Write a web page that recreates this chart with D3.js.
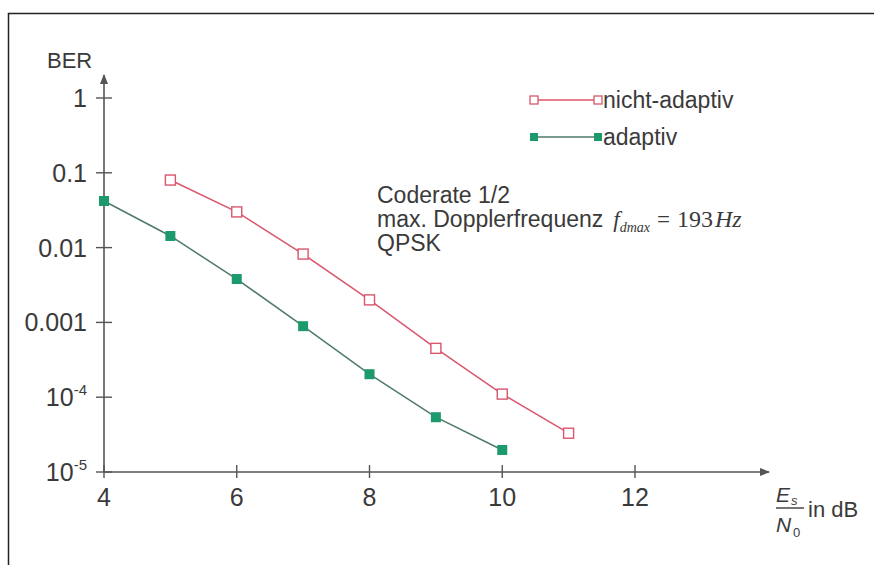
<!DOCTYPE html>
<html>
<head>
<meta charset="utf-8">
<script src="https://cdn.jsdelivr.net/npm/d3@7"></script>
<style>
html,body{margin:0;padding:0;background:#fff;}
svg{display:block;font-family:"Liberation Sans",Arial,sans-serif;}
</style>
</head>
<body>
<svg id="chart" width="874" height="565"></svg>
<script>
// ---- data ----
const nichtX = [5, 6, 7, 8, 9, 10, 11];
const nichtBER = [0.08, 0.030, 0.0082, 0.0020, 0.00045, 0.00011, 0.000033];
const adaptivX = [4, 5, 6, 7, 8, 9, 10];
const adaptivBER = [0.042, 0.0143, 0.0038, 0.00089, 0.000203, 0.000054, 0.0000197];
const xTicks = [4, 6, 8, 10, 12];
const yTicks = [1, 0.1, 0.01, 0.001, 1e-4, 1e-5];
const yTickLabels = ["1", "0.1", "0.01", "0.001", "10^-4", "10^-5"];
const seriesNames = ["nicht-adaptiv", "adaptiv"];
const annotationLines = ["Coderate 1/2", "max. Dopplerfrequenz", "QPSK"];

const svg = d3.select("#chart");
const red = "#d9566e", green = "#1d9a6c", greenLine = "#4f7a68", axisCol = "#555", txt = "#3a3a3a";

// frame (open on right/bottom)
svg.append("path").attr("d", "M8.5,565 V13.5 H874").attr("fill", "none").attr("stroke", "#222").attr("stroke-width", 1.5);

const x = d3.scaleLinear().domain([4, 12]).range([104, 635]);
const y = d3.scaleLog().domain([1e-5, 1]).range([472, 98]);

// axes lines with arrows
svg.append("defs").append("marker").attr("id", "arr").attr("viewBox", "0 0 10 10")
  .attr("refX", 9).attr("refY", 5).attr("markerWidth", 14).attr("markerHeight", 10)
  .attr("markerUnits", "userSpaceOnUse").attr("orient", "auto")
  .append("path").attr("d", "M0,1 L10,5 L0,9 Z").attr("fill", axisCol);

svg.append("line").attr("x1", x(4)).attr("y1", y(1e-5)).attr("x2", 769).attr("y2", y(1e-5))
  .attr("stroke", axisCol).attr("stroke-width", 1.6).attr("marker-end", "url(#arr)");
svg.append("line").attr("x1", x(4)).attr("y1", y(1e-5)).attr("x2", x(4)).attr("y2", 75)
  .attr("stroke", axisCol).attr("stroke-width", 1.6).attr("marker-end", "url(#arr)");

// x ticks
const gx = svg.append("g");
xTicks.forEach(t => {
  gx.append("line").attr("x1", x(t)).attr("x2", x(t)).attr("y1", y(1e-5) - 7).attr("y2", y(1e-5) + 6)
    .attr("stroke", axisCol).attr("stroke-width", 1.4);
  gx.append("text").attr("x", x(t)).attr("y", 506).attr("text-anchor", "middle")
    .attr("font-size", 25).attr("fill", txt).text(t);
});

// y ticks
const gy = svg.append("g");
yTicks.forEach((t, i) => {
  gy.append("line").attr("x1", x(4) - 8).attr("x2", x(4) + 8).attr("y1", y(t)).attr("y2", y(t))
    .attr("stroke", axisCol).attr("stroke-width", 1.4);
  const lab = yTickLabels[i];
  const tx = gy.append("text").attr("x", 87).attr("y", y(t) + 9).attr("text-anchor", "end")
    .attr("font-size", 25).attr("fill", txt);
  if (lab.startsWith("10^")) {
    tx.append("tspan").text("10");
    tx.append("tspan").attr("dy", -11).attr("font-size", 15).text(lab.slice(3));
  } else tx.text(lab);
});

svg.append("text").attr("x", 47).attr("y", 68).attr("font-size", 22).attr("fill", txt).text("BER");

// x axis label
const xl = svg.append("g").attr("fill", txt);
xl.append("text").attr("x", 776).attr("y", 502).attr("font-size", 21).attr("font-style", "italic").text("E");
xl.append("text").attr("x", 791).attr("y", 505).attr("font-size", 13).attr("font-style", "italic").text("s");
xl.append("line").attr("x1", 776).attr("x2", 804).attr("y1", 508).attr("y2", 508).attr("stroke", txt).attr("stroke-width", 1.4);
xl.append("text").attr("x", 776).attr("y", 532).attr("font-size", 21).attr("font-style", "italic").text("N");
xl.append("text").attr("x", 793).attr("y", 537).attr("font-size", 13).text("0");
xl.append("text").attr("x", 808).attr("y", 517).attr("font-size", 22).text("in dB");

// lines
const line = d3.line().x(d => x(d[0])).y(d => y(d[1]));
const nichtData = nichtX.map((v, i) => [v, nichtBER[i]]);
const adaptData = adaptivX.map((v, i) => [v, adaptivBER[i]]);

svg.append("path").datum(nichtData).attr("d", line).attr("fill", "none").attr("stroke", red).attr("stroke-width", 1.5);
svg.append("path").datum(adaptData).attr("d", line).attr("fill", "none").attr("stroke", greenLine).attr("stroke-width", 1.5);

const s = 10;
svg.selectAll(".mn").data(nichtData).enter().append("rect")
  .attr("x", d => x(d[0]) - s / 2).attr("y", d => y(d[1]) - s / 2).attr("width", s).attr("height", s)
  .attr("fill", "#fff").attr("stroke", red).attr("stroke-width", 1.4);
svg.selectAll(".ma").data(adaptData).enter().append("rect")
  .attr("x", d => x(d[0]) - s / 2).attr("y", d => y(d[1]) - s / 2).attr("width", s).attr("height", s)
  .attr("fill", green);

// legend
const leg = [[100, red, false], [137, greenLine, true]];
leg.forEach((l, i) => {
  const [ly, col, filled] = l;
  svg.append("line").attr("x1", 534).attr("x2", 598).attr("y1", ly).attr("y2", ly).attr("stroke", col).attr("stroke-width", 1.5);
  [534, 598].forEach(lx => {
    const r = svg.append("rect").attr("x", lx - 4).attr("y", ly - 4).attr("width", 8).attr("height", 8);
    if (filled) r.attr("fill", green);
    else r.attr("fill", "#fff").attr("stroke", red).attr("stroke-width", 1.3);
  });
  svg.append("text").attr("x", 603).attr("y", ly + 8).attr("font-size", 23).attr("fill", txt).text(seriesNames[i]);
});

// annotation
const an = svg.append("g").attr("fill", txt).attr("font-size", 23);
an.append("text").attr("x", 377).attr("y", 203).text(annotationLines[0]);
const t2 = an.append("text").attr("x", 377).attr("y", 227);
t2.append("tspan").text(annotationLines[1]);
t2.append("tspan").attr("dx", 10).attr("font-family", "'Liberation Serif',serif").attr("font-style", "italic").attr("font-size", 23).text("f");
t2.append("tspan").attr("dy", 5).attr("font-family", "'Liberation Serif',serif").attr("font-style", "italic").attr("font-size", 14).text("dmax");
t2.append("tspan").attr("dy", -5).attr("dx", 7).attr("font-family", "'Liberation Serif',serif").attr("font-size", 23).text("=");
t2.append("tspan").attr("dx", 7).attr("font-family", "'Liberation Serif',serif").attr("font-size", 24).text("193");
t2.append("tspan").attr("dx", 2).attr("font-family", "'Liberation Serif',serif").attr("font-style", "italic").attr("font-size", 24).text("Hz");
an.append("text").attr("x", 377).attr("y", 251).text(annotationLines[2]);
</script>
</body>
</html>
